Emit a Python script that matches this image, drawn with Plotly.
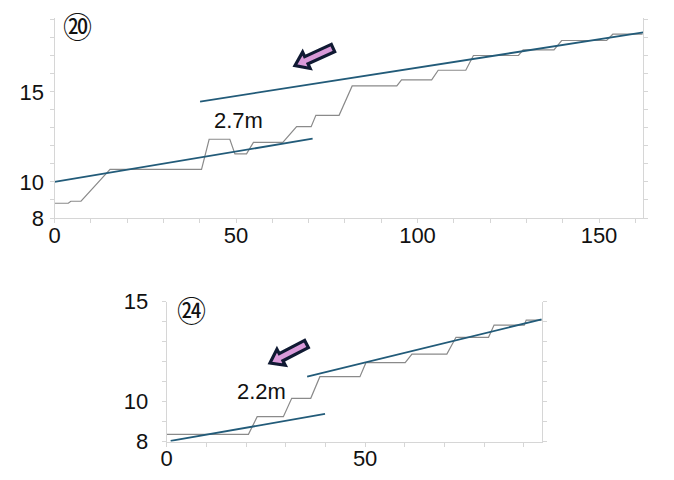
import plotly.graph_objects as go
import math

W, H = 674, 480

# ---------------- data ----------------
# Chart 20 (top)
top_profile_x = [0, 3.8, 4.5, 7.3, 15.3, 40.5, 42.6, 48.3, 49.7, 52.9, 54.8, 62.9, 66.7, 70.7,
                 72.0, 78.4, 82.0, 94.3, 95.6, 103.9, 105.7, 113.3, 115.4, 127.8, 129.1, 137.6,
                 139.7, 152.1, 153.8, 162.0]
top_profile_y = [8.82, 8.82, 8.93, 8.93, 10.7, 10.7, 12.37, 12.37, 11.56, 11.56, 12.2, 12.2, 13.07, 13.07,
                 13.7, 13.7, 15.33, 15.33, 15.67, 15.67, 16.2, 16.2, 17.02, 17.02, 17.33, 17.33,
                 17.85, 17.85, 18.2, 18.2]
top_fit1_x = [0, 71.1]
top_fit1_y = [10.0, 12.4]
top_fit2_x = [40.1, 162.2]
top_fit2_y = [14.46, 18.3]

# Chart 24 (bottom)
bot_profile_x = [0, 20.6, 22.8, 29.4, 31.5, 36.3, 38.6, 48.7, 50.2, 60.1, 61.8, 70.6, 72.9, 81.1,
                 82.5, 90.1, 90.6, 94.5]
bot_profile_y = [8.37, 8.37, 9.25, 9.25, 10.17, 10.17, 11.25, 11.25, 11.95, 11.95, 12.38, 12.38,
                 13.22, 13.22, 13.83, 13.83, 14.08, 14.08]
bot_fit1_x = [1.0, 39.9]
bot_fit1_y = [8.04, 9.39]
bot_fit2_x = [35.4, 94.5]
bot_fit2_y = [11.25, 14.12]

top_xticks = [0, 50, 100, 150]
top_yticks = [8, 10, 15]
bot_xticks = [0, 50]
bot_yticks = [8, 10, 15]

GRAY = "#8a8a8a"
BLUE = "#225b79"
AXIS = "#d6d6d6"
FONT = "Liberation Sans, Arial, sans-serif"
FS = 22

fig = go.Figure()

def add_set(px_, py_, f1x, f1y, f2x, f2y, xa, ya):
    fig.add_trace(go.Scatter(x=px_, y=py_, mode="lines", line=dict(color=GRAY, width=1.2),
                             xaxis=xa, yaxis=ya, showlegend=False, hoverinfo="skip"))
    for fx, fy in ((f1x, f1y), (f2x, f2y)):
        fig.add_trace(go.Scatter(x=fx, y=fy, mode="lines", line=dict(color=BLUE, width=1.8),
                                 xaxis=xa, yaxis=ya, showlegend=False, hoverinfo="skip"))

add_set(top_profile_x, top_profile_y, top_fit1_x, top_fit1_y, top_fit2_x, top_fit2_y, "x", "y")
add_set(bot_profile_x, bot_profile_y, bot_fit1_x, bot_fit1_y, bot_fit2_x, bot_fit2_y, "x2", "y2")

def axis_common():
    return dict(showline=True, linecolor=AXIS, linewidth=1, showgrid=False, zeroline=False,
                ticks="outside", ticklen=4, tickcolor=AXIS, automargin=False,
                tickfont=dict(family=FONT, size=FS, color="#111111"))

xa1 = axis_common(); xa1.update(domain=[54.5 / W, 643.3 / W], range=[0, 162.2], tickvals=top_xticks,
                                minor=dict(dtick=10, ticks="outside", ticklen=4, tickcolor=AXIS),
                                anchor="y", ticklabelstandoff=-6)
ya1 = axis_common(); ya1.update(domain=[1 - 218 / H, 1 - 18 / H], range=[8, 19.1], tickvals=top_yticks,
                                minor=dict(dtick=1, ticks="outside", ticklen=4, tickcolor=AXIS),
                                mirror="ticks", anchor="x", ticklabelstandoff=1)
xa2 = axis_common(); xa2.update(domain=[166.7 / W, 541.7 / W], range=[0, 94.5], tickvals=bot_xticks,
                                minor=dict(dtick=10, ticks="outside", ticklen=4, tickcolor=AXIS),
                                anchor="y2", ticklabelstandoff=-7)
ya2 = axis_common(); ya2.update(domain=[1 - 441.7 / H, 1 - 301.7 / H], range=[8, 15], tickvals=bot_yticks,
                                minor=dict(dtick=1, ticks="outside", ticklen=4, tickcolor=AXIS),
                                mirror="ticks", anchor="x2", ticklabelstandoff=9)

annotations = [
    dict(x=50.6, y=13.4, xref="x", yref="y", text="2.7m", showarrow=False,
         xanchor="center", yanchor="middle", font=dict(family=FONT, size=FS, color="#111111")),
    dict(x=23.9, y=10.53, xref="x2", yref="y2", text="2.2m", showarrow=False,
         xanchor="center", yanchor="middle", font=dict(family=FONT, size=FS, color="#111111")),
    dict(x=77 / W, y=1 - 25 / H, xref="paper", yref="paper", text="⑳", showarrow=False,
         xanchor="center", yanchor="middle",
         font=dict(family="Noto Sans CJK JP", size=29, color="#111111")),
    dict(x=191.5 / W, y=1 - 309 / H, xref="paper", yref="paper", text="㉔", showarrow=False,
         xanchor="center", yanchor="middle",
         font=dict(family="Noto Sans CJK JP", size=29, color="#111111")),
]

def block_arrow(tail, tip, ws=4.0, wh=9.0, hl=12.5):
    tx, ty = tail; px_, py_ = tip
    dx, dy = px_ - tx, py_ - ty
    L = math.hypot(dx, dy)
    ux, uy = dx / L, dy / L
    nx, ny = -uy, ux
    neck = (px_ - ux * hl, py_ - uy * hl)
    pts = [(tx + nx * ws, ty + ny * ws), (neck[0] + nx * ws, neck[1] + ny * ws),
           (neck[0] + nx * wh, neck[1] + ny * wh), (px_, py_),
           (neck[0] - nx * wh, neck[1] - ny * wh), (neck[0] - nx * ws, neck[1] - ny * ws),
           (tx - nx * ws, ty - ny * ws)]
    path = "M " + " L ".join(f"{x / W:.5f},{1 - y / H:.5f}" for x, y in pts) + " Z"
    return dict(type="path", xref="paper", yref="paper", path=path,
                fillcolor="#d99ad9", line=dict(color="#101a33", width=3.2), layer="above")

shapes = [block_arrow((333, 48), (295, 65.5)), block_arrow((306.5, 344), (270, 363))]

fig.update_layout(width=W, height=H, margin=dict(l=0, r=0, t=0, b=0, autoexpand=False),
                  paper_bgcolor="white", plot_bgcolor="white",
                  xaxis=xa1, yaxis=ya1, xaxis2=xa2, yaxis2=ya2,
                  annotations=annotations, shapes=shapes, showlegend=False)

fig.write_html("out.html", config=dict(responsive=False, displayModeBar=False),
               post_script="document.body.style.margin='0';document.body.style.overflow='hidden';")
